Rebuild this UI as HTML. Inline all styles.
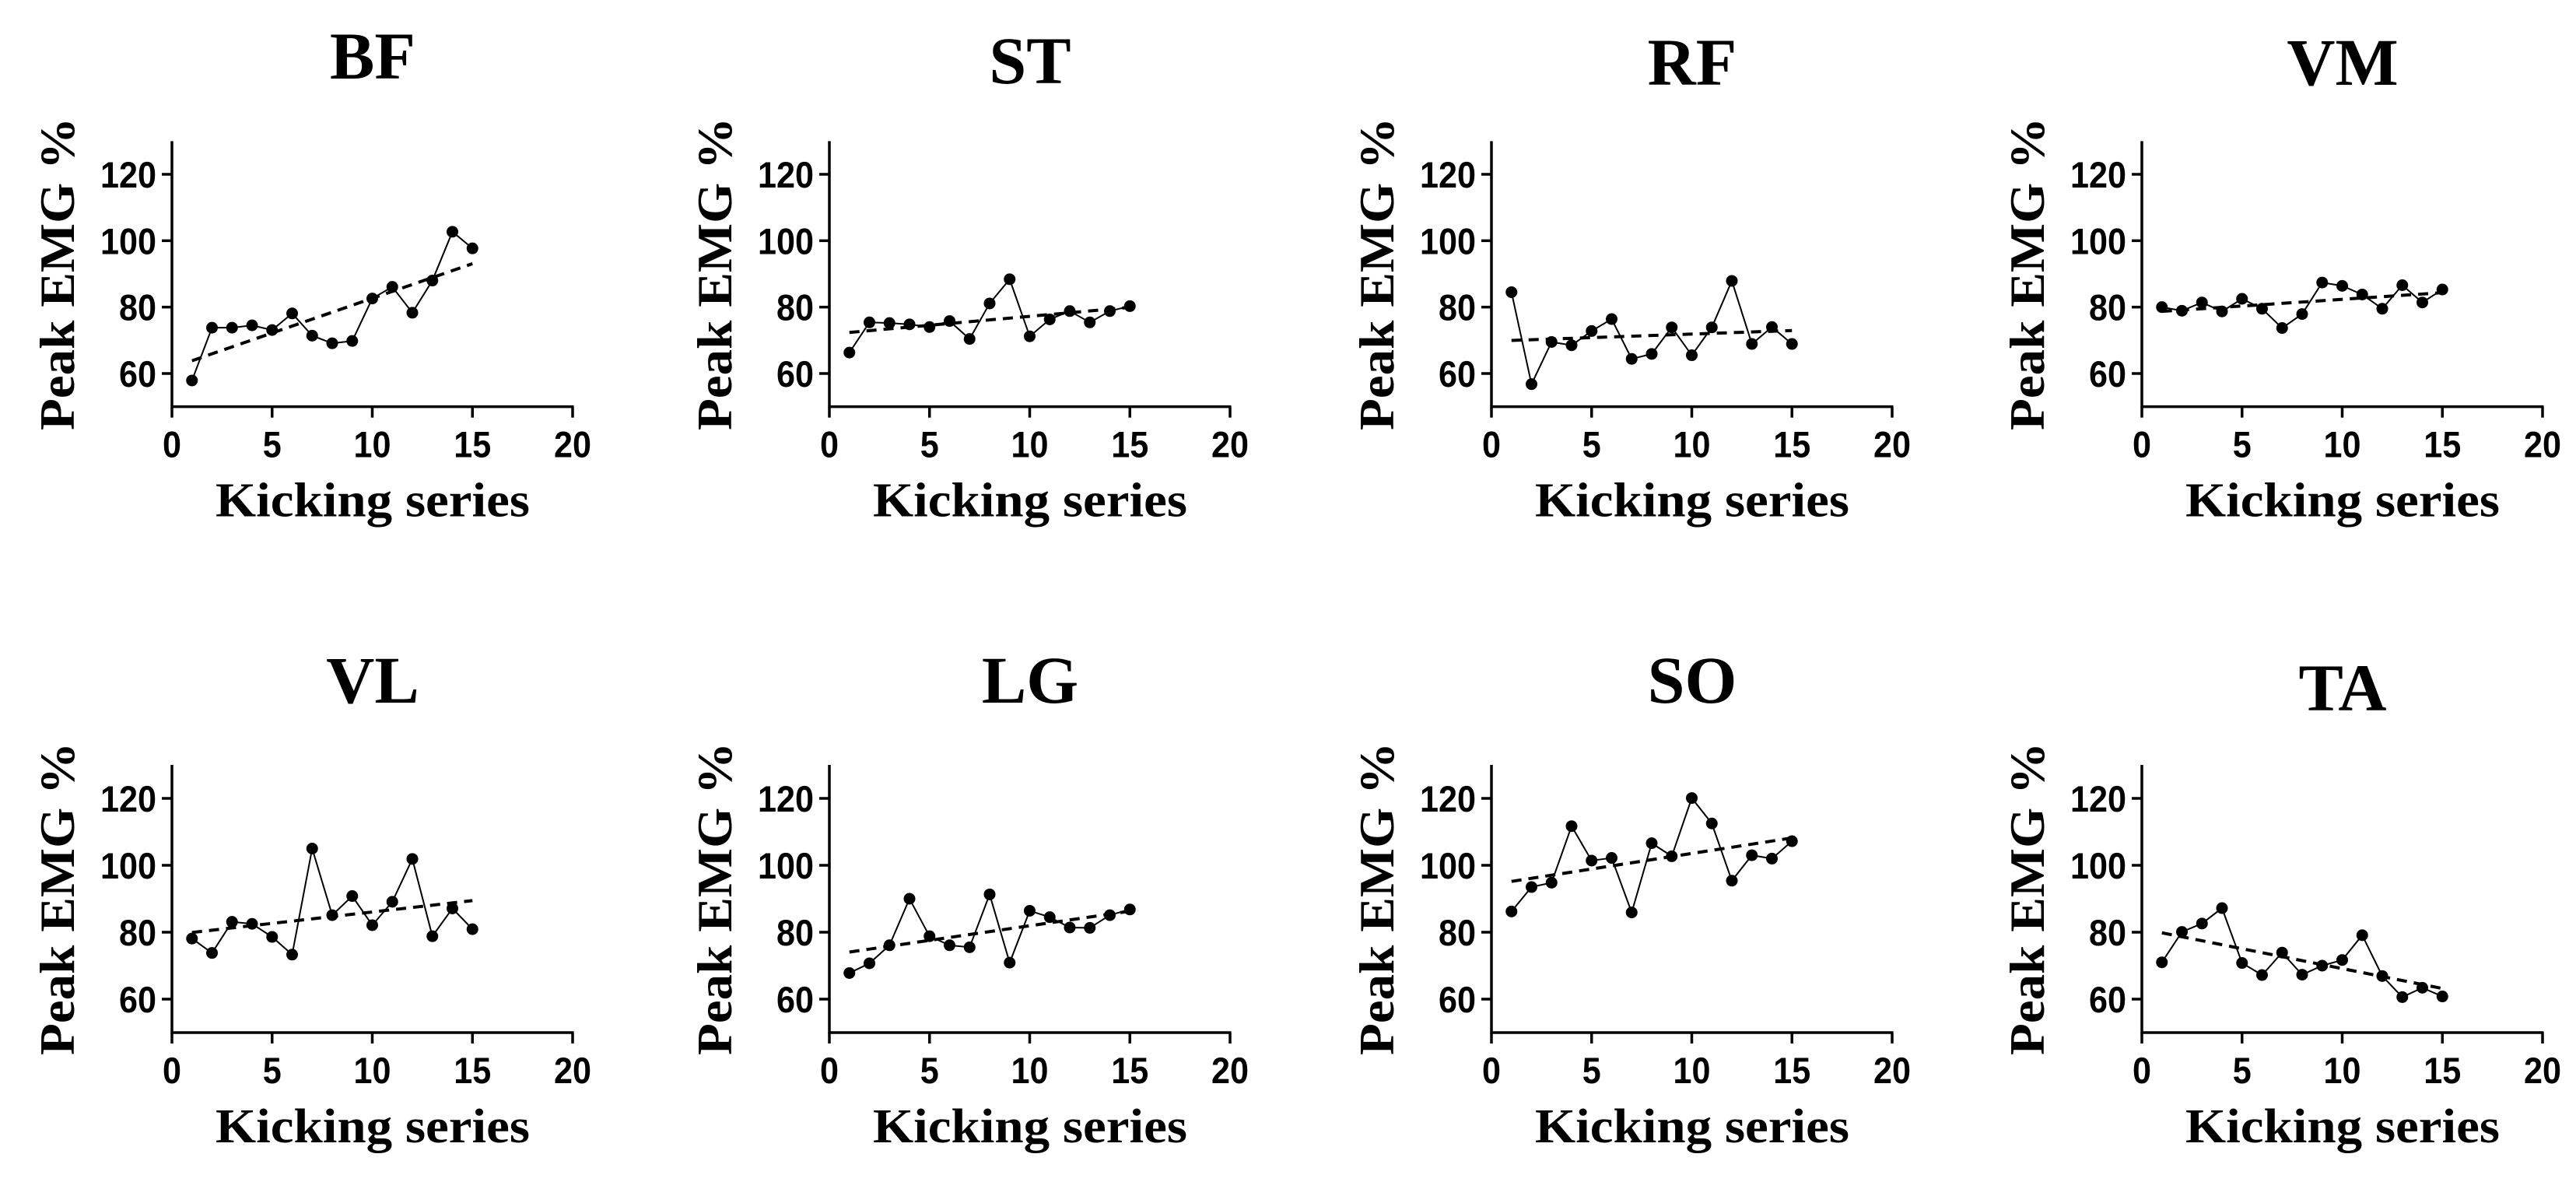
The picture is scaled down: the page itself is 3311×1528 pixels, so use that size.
<!DOCTYPE html>
<html><head><meta charset="utf-8"><style>
html,body{margin:0;padding:0;background:#fff;}
svg{display:block;}
</style></head><body>
<svg id="fig" width="3311" height="1528" viewBox="0 0 3311 1528" xmlns="http://www.w3.org/2000/svg"></svg>
<script>
const muscles = ["BF","ST","RF","VM","VL","LG","SO","TA"];
const series = [1,2,3,4,5,6,7,8,9,10,11,12,13,14,15];
const bfValues = [57.9,73.8,73.8,74.5,73.1,78.1,71.4,69.1,69.8,82.6,86.1,78.3,88,102.7,97.7];
const stValues = [66.3,75.4,75.2,74.8,74.0,75.8,70.4,81.1,88.4,71.2,76.3,78.8,75.4,78.8,80.3];
const rfValues = [84.5,56.8,69.5,68.5,72.8,76.4,64.4,65.9,73.9,65.5,73.9,87.9,68.9,74.0,68.9];
const vmValues = [80.0,78.9,81.4,78.7,82.5,79.5,73.7,77.9,87.4,86.4,83.8,79.5,86.6,81.4,85.3];
const vlValues = [78.1,73.8,83.1,82.5,78.6,73.3,105.0,85.1,90.8,82.1,89.1,101.9,78.8,87.1,80.9];
const lgValues = [67.8,70.7,76.1,90.0,78.8,76.1,75.5,91.3,70.9,86.4,84.5,81.4,81.3,85.1,86.8];
const soValues = [86.2,93.5,94.8,111.7,101.4,102.2,85.9,106.6,102.7,120.1,112.5,95.4,103.0,102.0,107.2];
const taValues = [71.0,80.1,82.6,87.2,70.8,67.2,73.9,67.3,70.0,71.7,79.1,66.9,60.6,63.4,60.8];
const allValues = [bfValues,stValues,rfValues,vmValues,vlValues,lgValues,soValues,taValues];
const xTicks = [0,5,10,15,20];
const yTicks = [60,80,100,120];

const NS = "http://www.w3.org/2000/svg";
const svg = document.getElementById("fig");
const axisXs = [221,1066,1917,2753];
const rowY60 = [480,1284];
const rowY120 = [224,1026];
const titleBase = [[101,107,109,109],[903,903,903,913]];
const plotW = 515;

function mk(tag, attrs, parent){
  const e = document.createElementNS(NS, tag);
  for (const k in attrs) e.setAttribute(k, attrs[k]);
  (parent||svg).appendChild(e);
  return e;
}

allValues.forEach((vals, idx) => {
  const row = Math.floor(idx/4), col = idx%4;
  const ax = axisXs[col];
  const k = (rowY60[row]-rowY120[row])/60;
  const xS = v => ax + v*plotW/20;
  const yS = v => rowY60[row] - (v-60)*k;
  const g = mk("g", {});
  
  

  const cx = ax + 258;
  const t = mk("text", {x: ax + 258, y: titleBase[row][col], "text-anchor":"middle", "font-family":"Liberation Serif, serif", "font-weight":"bold", "font-size":"86"}, g);
  t.textContent = muscles[idx];
  
  

  const yAxis = mk("line", {x1:ax, y1:yS(130), x2:ax, y2:yS(50)+1.5, stroke:"#000","stroke-width":3.5}, g);
  
  
  const xAxis = mk("line", {x1:ax-1.5, y1:yS(50), x2:xS(20)+1.5, y2:yS(50), stroke:"#000","stroke-width":3.5}, g);
  
  

  yTicks.forEach(v => {
    mk("line", {x1:ax-13, y1:yS(v), x2:ax, y2:yS(v), stroke:"#000","stroke-width":3.5}, g);
    const s = String(v);
    const tl = mk("text", {x:ax-20, y:yS(v)+17, "text-anchor":"end", "font-family":"Liberation Sans, sans-serif", "font-weight":"bold", "font-size":"47", textLength: String(24*s.length), lengthAdjust:"spacingAndGlyphs"}, g);
    tl.textContent = s;
    
    
  });
  xTicks.forEach(v => {
    mk("line", {x1:xS(v), y1:yS(50), x2:xS(v), y2:yS(50)+14, stroke:"#000","stroke-width":3.5}, g);
    const s = String(v);
    const tl = mk("text", {x:xS(v), y:yS(50)+65, "text-anchor":"middle", "font-family":"Liberation Sans, sans-serif", "font-weight":"bold", "font-size":"47", textLength: String(24*s.length), lengthAdjust:"spacingAndGlyphs"}, g);
    tl.textContent = s;
    
    
  });

  const xl = mk("text", {x:cx, y:yS(50)+141, "text-anchor":"middle", "font-family":"Liberation Serif, serif", "font-weight":"bold", "font-size":"62", textLength:"404", lengthAdjust:"spacingAndGlyphs"}, g);
  xl.textContent = "Kicking series";
  
  

  const ly = (yS(130)+yS(50))/2;
  const yl = mk("text", {x:0, y:0, transform:`translate(${ax-126},${ly}) rotate(-90)`, "text-anchor":"middle", "font-family":"Liberation Serif, serif", "font-weight":"bold", "font-size":"64", textLength:"402", lengthAdjust:"spacingAndGlyphs"}, g);
  yl.textContent = "Peak EMG %";
  
  

  const n = series.length;
  const mx = series.reduce((a,b)=>a+b,0)/n, my = vals.reduce((a,b)=>a+b,0)/n;
  let sxy=0, sxx=0;
  for (let i=0;i<n;i++){ sxy += (series[i]-mx)*(vals[i]-my); sxx += (series[i]-mx)**2; }
  const b = sxy/sxx, a = my - b*mx;
  const tr = mk("line", {x1:xS(1), y1:yS(a+b*1), x2:xS(15), y2:yS(a+b*15), stroke:"#000","stroke-width":4,"stroke-dasharray":"13 9"}, g);
  
  

  const pts = series.map((s,i)=> xS(s)+","+yS(vals[i])).join(" ");
  const pl = mk("polyline", {points:pts, fill:"none", stroke:"#000","stroke-width":2}, g);
  
  
  series.forEach((s,i) => {
    const c = mk("circle", {cx:xS(s), cy:yS(vals[i]), r:7.5, fill:"#000"}, g);
    
    
  });
});
</script>
</body></html>
